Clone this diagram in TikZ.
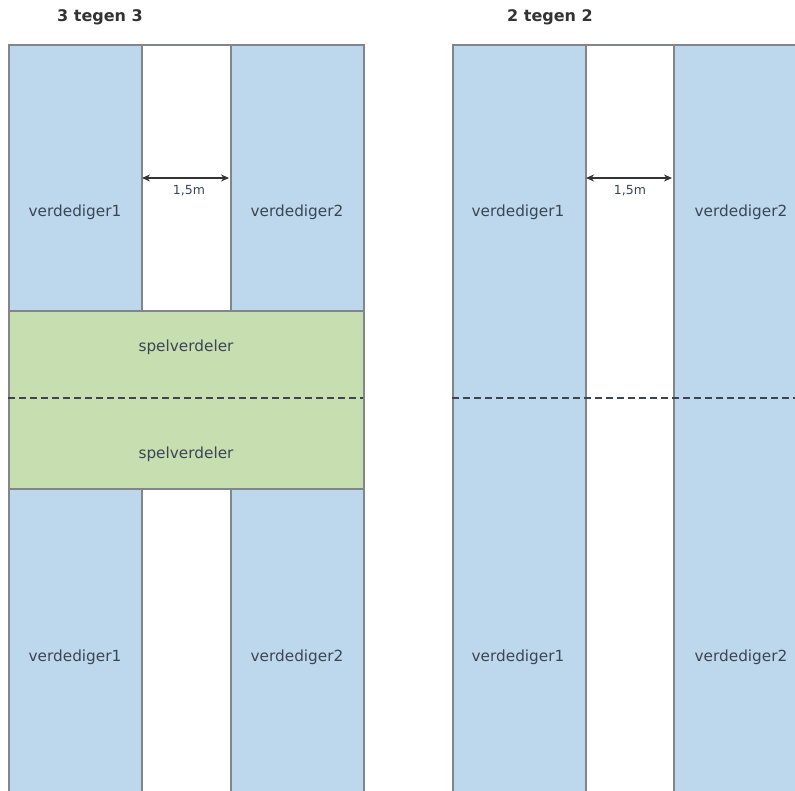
\documentclass[tikz,border=0pt]{standalone}
\usepackage{fontspec}
\setmainfont{DejaVu Sans}
\usetikzlibrary{arrows.meta}
\definecolor{lblue}{RGB}{189,215,236}
\definecolor{lgreen}{RGB}{198,222,176}
\definecolor{edge}{RGB}{128,134,140}
\definecolor{txt}{RGB}{58,70,84}
\definecolor{dash}{RGB}{60,70,82}
\begin{document}
\begin{tikzpicture}[x=1pt,y=-1pt,
  zone/.style={draw=edge,line width=1.6pt,rectangle,anchor=north west,inner sep=0pt},
  bluezone/.style={zone,fill=lblue},
  greenzone/.style={zone,fill=lgreen},
  whitezone/.style={zone,fill=white},
  lbl/.style={text=txt,font=\fontsize{15.3}{17}\selectfont,inner sep=0pt},
  small/.style={text=txt,font=\fontsize{12.5}{14}\selectfont,inner sep=0pt},
  title/.style={text=black!80,font=\bfseries\fontsize{16}{18}\selectfont,inner sep=0pt},
  midline/.style={draw=dash,line width=2.6pt,dash pattern=on 7pt off 4pt},
  meas/.style={draw=black!80,line width=1.4pt,{Stealth[length=8pt,width=7pt]}-{Stealth[length=8pt,width=7pt]}}]
\useasboundingbox (0,0) rectangle (795,791);
\fill[white] (0,0) rectangle (795,791);
\clip (0,0) rectangle (795,791);
% ---------- left panel: 3 tegen 3
\node[title] (t1) at (100,17) {3 tegen 3};
\node[whitezone,minimum width=89pt,minimum height=800pt] (w1) at (141,44) {};
\node[bluezone,minimum width=133pt,minimum height=266pt] (a1) at (8,44) {};
\node[bluezone,minimum width=133pt,minimum height=266pt] (a2) at (230,44) {};
\node[greenzone,minimum width=355pt,minimum height=178pt] (g1) at (8,310) {};
\node[bluezone,minimum width=133pt,minimum height=320pt] (b1) at (8,488) {};
\node[bluezone,minimum width=133pt,minimum height=320pt] (b2) at (230,488) {};
\coordinate (d1s) at (8,398);
\coordinate (d1e) at (363,398);
\draw[midline] (d1s) -- (d1e);
\coordinate (m1s) at (142,178);
\coordinate (m1e) at (229,178);
\draw[meas] (m1s) -- (m1e);
\node[small] (m1) at (189,191) {1,5m};
\node[lbl] (la1) at (75,212) {verdediger1};
\node[lbl] (la2) at (297,212) {verdediger2};
\node[lbl] (sp1) at (186,347) {spelverdeler};
\node[lbl] (sp2) at (186,454) {spelverdeler};
\node[lbl] (lb1) at (75,657) {verdediger1};
\node[lbl] (lb2) at (297,657) {verdediger2};
% ---------- right panel: 2 tegen 2
\node[title] (t2) at (550,17) {2 tegen 2};
\node[whitezone,minimum width=88pt,minimum height=800pt] (w2) at (585,44) {};
\node[bluezone,minimum width=133pt,minimum height=800pt] (c1) at (452,44) {};
\node[bluezone,minimum width=140pt,minimum height=800pt] (c2) at (673,44) {};
\coordinate (d2s) at (452,398);
\coordinate (d2e) at (800,398);
\draw[midline] (d2s) -- (d2e);
\coordinate (m2s) at (586,178);
\coordinate (m2e) at (672,178);
\draw[meas] (m2s) -- (m2e);
\node[small] (m2) at (630,191) {1,5m};
\node[lbl] (rc1) at (518,212) {verdediger1};
\node[lbl] (rc2) at (741,212) {verdediger2};
\node[lbl] (rd1) at (518,657) {verdediger1};
\node[lbl] (rd2) at (741,657) {verdediger2};
\end{tikzpicture}
\end{document}
